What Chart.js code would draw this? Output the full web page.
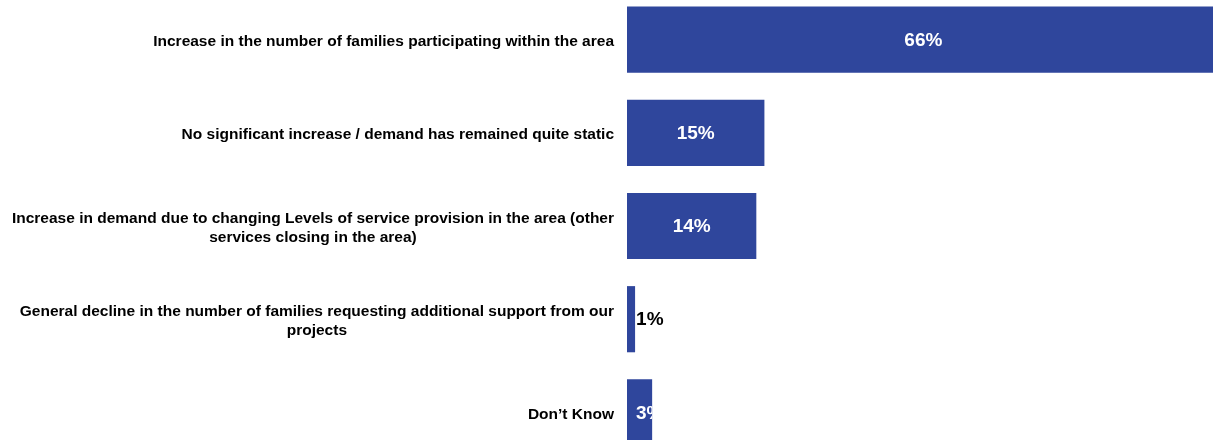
<!DOCTYPE html>
<html>
<head>
<meta charset="utf-8">
<script src="https://cdn.jsdelivr.net/npm/chart.js@4"></script>
<style>
  html, body { margin: 0; padding: 0; background: #fff; overflow: hidden; width: 1213px; height: 440px; }
  #wrap { position: absolute; left: 0; top: -7px; width: 1213px; height: 466px; }
</style>
</head>
<body>
<div id="wrap"><canvas id="c"></canvas></div>
<script>
const categories = [
  ["Increase in the number of families participating within the area"],
  ["No significant increase / demand has remained quite static"],
  ["Increase in demand due to changing Levels of service provision in the area (other", "services closing in the area)"],
  ["General decline in the number of families requesting additional support from our", "projects"],
  ["Don\u2019t Know"]
];
const values = [66, 15.3, 14.4, 0.9, 2.8];
const valueLabels = ["66%", "15%", "14%", "1%", "3%"];

const labelFont = "bold 15.5px 'Liberation Sans', Arial, sans-serif";
const valueFont = "bold 19px 'Liberation Sans', Arial, sans-serif";

const labelPlugin = {
  id: 'customLabels',
  afterDatasetsDraw(chart) {
    const ctx = chart.ctx;
    const yScale = chart.scales.y;
    const meta = chart.getDatasetMeta(0);
    ctx.save();
    ctx.font = labelFont;
    ctx.fillStyle = '#000';
    ctx.textBaseline = 'middle';
    ctx.textAlign = 'center';
    const rightEdge = chart.chartArea.left - 13;
    const lh = 19;
    categories.forEach((lines, i) => {
      const yc = yScale.getPixelForValue(i) + 2;
      const widest = Math.max(...lines.map(l => ctx.measureText(l).width));
      const xc = rightEdge - widest / 2;
      const y0 = yc - (lines.length - 1) * lh / 2;
      lines.forEach((l, j) => ctx.fillText(l, xc, y0 + j * lh));
    });
    ctx.font = valueFont;
    ctx.textBaseline = 'middle';
    meta.data.forEach((bar, i) => {
      const base = bar.base;
      const end = Math.min(bar.x, chart.chartArea.right + 7);
      const fullEnd = bar.x;
      const w = fullEnd - base;
      const txt = valueLabels[i];
      const tw = ctx.measureText(txt).width;
      if (w < 12) {
        ctx.fillStyle = '#000';
        ctx.textAlign = 'left';
        ctx.fillText(txt, fullEnd + 1, bar.y + 1);
      } else {
        ctx.save();
        ctx.beginPath();
        ctx.rect(base, bar.y - bar.height / 2, w, bar.height);
        ctx.clip();
        ctx.fillStyle = '#fff';
        ctx.textAlign = 'center';
        const xc = Math.max((base + fullEnd) / 2, base + 9 + tw / 2);
        ctx.fillText(txt, xc, bar.y + 1);
        ctx.restore();
      }
    });
    ctx.restore();
  }
};

new Chart(document.getElementById('c'), {
  type: 'bar',
  data: {
    labels: categories.map(c => c.join(' ')),
    datasets: [{
      data: values,
      backgroundColor: '#2f469c',
      borderWidth: 0,
      categoryPercentage: 1,
      barPercentage: 0.71
    }]
  },
  options: {
    indexAxis: 'y',
    responsive: true,
    maintainAspectRatio: false,
    animation: false,
    layout: { padding: { left: 627, right: 0, top: 0, bottom: 0 } },
    scales: {
      x: { display: false, min: 0, max: 65.25 },
      y: { display: false }
    },
    plugins: { legend: { display: false }, tooltip: { enabled: false } }
  },
  plugins: [labelPlugin]
});
</script>
</body>
</html>
